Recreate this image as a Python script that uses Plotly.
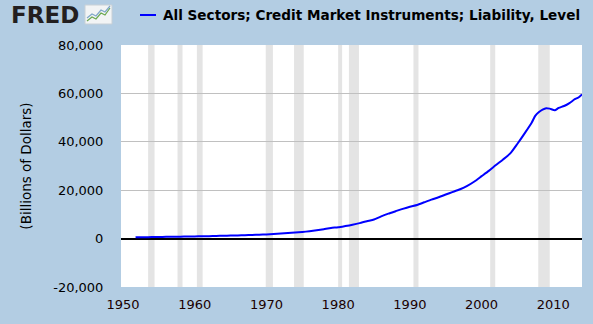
import plotly.graph_objects as go

# ---- data (billions of dollars) ----
years = [1951.75, 1952, 1953, 1954, 1955, 1956, 1957, 1958, 1959, 1960,
         1961, 1962, 1963, 1964, 1965, 1966, 1967, 1968, 1969, 1970,
         1971, 1972, 1973, 1974, 1975, 1976, 1977, 1978, 1979, 1980,
         1981, 1982, 1983, 1984, 1985, 1986, 1987, 1988, 1989, 1990,
         1991, 1992, 1993, 1994, 1995, 1996, 1997, 1998, 1999, 2000,
         2001, 2002, 2003, 2004, 2005, 2006, 2007, 2007.5, 2008.0, 2008.5,
         2009.0, 2009.5, 2010.2, 2010.75, 2011.5, 2012.25, 2013.0, 2013.5, 2014.0]
values = [520, 555, 590, 625, 680, 720, 755, 800, 860, 900,
          955, 1020, 1090, 1165, 1245, 1320, 1405, 1510, 1610, 1710,
          1870, 2060, 2290, 2500, 2730, 3040, 3440, 3910, 4400, 4700,
          5200, 5750, 6400, 7200, 7900, 9200, 10300, 11300, 12300, 13200,
          13900, 15000, 16100, 17100, 18200, 19300, 20400, 21800, 23600, 25800,
          28000, 30400, 32700, 35200, 39200, 43500, 48000, 50800, 52300, 53300,
          53900, 53700, 53000, 54000, 54800, 56000, 57600, 58300, 59600]

rec_start = [1953.5, 1957.6, 1960.3, 1969.9, 1973.85, 1980.0, 1981.5, 1990.5, 2001.2, 2007.9]
rec_end = [1954.4, 1958.3, 1961.1, 1970.9, 1975.2, 1980.55, 1982.9, 1991.2, 2001.9, 2009.5]

series_name = "All Sectors; Credit Market Instruments; Liability, Level"
x_ticks = [1950, 1960, 1970, 1980, 1990, 2000, 2010]
y_ticks = [-20000, 0, 20000, 40000, 60000, 80000]

W, H = 593, 324
ML, MR, MT, MB = 121, 11, 45, 37
PW, PH = W - ML - MR, H - MT - MB


def px(x):
    return (x - ML) / PW


def py(y):
    return (H - MB - y) / PH


fig = go.Figure()
fig.add_trace(go.Scatter(x=years, y=values, mode="lines", name=series_name,
                         line=dict(color="#0000FF", width=2, shape="spline", smoothing=0.6),
                         showlegend=False))

shapes = []
for s, e in zip(rec_start, rec_end):
    shapes.append(dict(type="rect", xref="x", yref="paper", x0=s, x1=e, y0=0, y1=1,
                       fillcolor="#E4E4E4", line=dict(width=0), layer="below"))
# legend sample line
shapes.append(dict(type="line", xref="paper", yref="paper", x0=px(140), x1=px(156),
                   y0=py(15), y1=py(15), line=dict(color="#0000FF", width=2)))
# FRED icon
shapes.append(dict(type="rect", xref="paper", yref="paper", x0=px(85), x1=px(112),
                   y0=py(24), y1=py(5), fillcolor="#F2F4F5", line=dict(color="#C8D0D6", width=1)))
green = [(87, 21), (92, 17), (96, 19), (101, 13), (105, 15), (110, 8)]
blue = [(87, 18), (92, 14), (96, 16), (101, 10), (105, 12), (110, 6)]
for pts, col in ((green, "#6AA84F"), (blue, "#7FA7C8")):
    path = "M " + " L ".join(f"{px(a):.5f},{py(b):.5f}" for a, b in pts)
    shapes.append(dict(type="path", xref="paper", yref="paper", path=path,
                       line=dict(color=col, width=1.2)))

annotations = [
    dict(text="<b>FRED</b>", xref="paper", yref="paper", x=px(9), y=py(15),
         xanchor="left", yanchor="middle", showarrow=False,
         font=dict(family="DejaVu Sans", size=23, color="#231F20")),
    dict(text="<b>" + series_name + "</b>", xref="paper", yref="paper", x=px(161), y=py(15),
         xanchor="left", yanchor="middle", showarrow=False,
         font=dict(family="DejaVu Sans", size=13.6, color="#000000")),
]

fig.update_layout(
    width=W, height=H,
    margin=dict(l=ML, r=MR, t=MT, b=MB, pad=0),
    paper_bgcolor="#B3CDE3",
    plot_bgcolor="#FFFFFF",
    shapes=shapes,
    annotations=annotations,
    font=dict(family="DejaVu Sans", size=13, color="#000000"),
    xaxis=dict(range=[1949.72, 2014.0], tickvals=x_ticks, ticktext=[str(t) for t in x_ticks],
               showgrid=False, zeroline=False, showline=False,
               ticks="outside", ticklen=5, tickcolor="rgba(0,0,0,0)",
               tickfont=dict(size=13, color="#1a0000")),
    yaxis=dict(range=[-20000, 80000], tickvals=y_ticks,
               ticktext=[f"{v:,}" for v in y_ticks],
               showgrid=True, gridcolor="#C0C0C0", gridwidth=1,
               zeroline=True, zerolinecolor="#000000", zerolinewidth=2,
               showline=False, ticks="outside", ticklen=14, tickcolor="rgba(0,0,0,0)",
               tickfont=dict(size=13, color="#000000"),
               title=dict(text="(Billions of Dollars)", font=dict(size=13.5), standoff=18)),
)

fig.write_html("out.html")
